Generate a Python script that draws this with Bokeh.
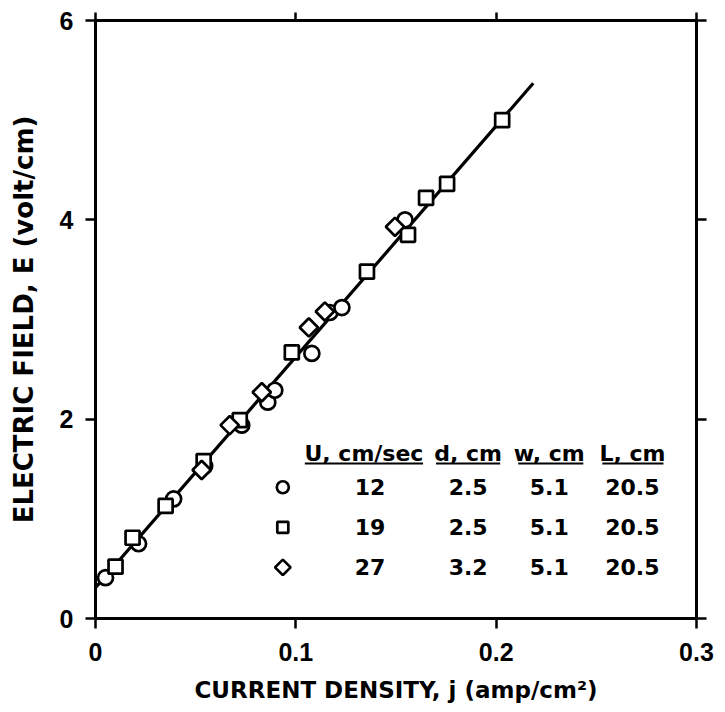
import math
from bokeh.plotting import figure
from bokeh.models import LinearAxis, FixedTicker, Range1d
from bokeh.embed import file_html
from bokeh.resources import INLINE
from bokeh.core.properties import value

# ---- data ----
x_ticks = [0.0, 0.1, 0.2, 0.3]
x_tick_labels = ["0", "0.1", "0.2", "0.3"]
y_ticks = [0, 2, 4, 6]
y_tick_labels = ["0", "2", "4", "6"]

# U = 12 cm/sec (circles)
circle_j = [0.005, 0.0215, 0.039, 0.0545, 0.073, 0.086, 0.0895, 0.108, 0.117, 0.123, 0.1545]
circle_E = [0.41, 0.75, 1.20, 1.53, 1.94, 2.17, 2.29, 2.66, 3.07, 3.12, 4.00]
# U = 19 cm/sec (squares)
square_j = [0.010, 0.0185, 0.035, 0.054, 0.072, 0.098, 0.1355, 0.156, 0.165, 0.1755, 0.203]
square_E = [0.52, 0.81, 1.13, 1.58, 1.99, 2.67, 3.48, 3.85, 4.22, 4.36, 5.00]
# U = 27 cm/sec (diamonds)
diamond_j = [0.053, 0.067, 0.083, 0.1065, 0.1145, 0.1495]
diamond_E = [1.49, 1.94, 2.27, 2.92, 3.08, 3.93]

# straight-line fit through the data
fit_j = [0.0, 0.2185]
fit_E = [0.31, 5.37]

table_header = ["U, cm/sec", "d, cm", "w, cm", "L, cm"]
table_U = ["12", "19", "27"]
table_d = ["2.5", "2.5", "3.2"]
table_w = ["5.1", "5.1", "5.1"]
table_L = ["20.5", "20.5", "20.5"]

x_title = "CURRENT DENSITY, j (amp/cm\u00b2)"
y_title = "ELECTRIC FIELD, E (volt/cm)"

FONT = "DejaVu Sans"

p = figure(width=722, height=712,
           x_range=Range1d(0, 0.3), y_range=Range1d(0, 6),
           output_backend="svg", toolbar_location=None,
           min_border_left=95, min_border_right=26,
           min_border_top=20, min_border_bottom=94,
           x_axis_label=x_title, y_axis_label=y_title)
p.outline_line_color = None
p.xgrid.visible = False
p.ygrid.visible = False
p.background_fill_color = "white"
p.border_fill_color = "white"

def style_axis(ax, ticks, labels, show_labels=True, tick_out=10):
    ax.ticker = FixedTicker(ticks=ticks)
    ax.axis_line_width = 3
    ax.axis_line_color = "black"
    ax.major_tick_line_width = 2.5
    ax.major_tick_line_color = "black"
    ax.major_tick_in = 0
    ax.major_tick_out = tick_out
    ax.minor_tick_in = 0
    ax.minor_tick_out = 0
    ax.minor_tick_line_color = None
    if show_labels:
        ax.major_label_overrides = {t: l for t, l in zip(ticks, labels)}
        ax.major_label_text_font = "Liberation Sans"
        ax.major_label_text_font_style = "bold"
        ax.major_label_text_font_size = "25px"
        ax.major_label_text_color = "black"
    else:
        ax.major_label_text_font_size = "0px"
        ax.major_label_standoff = 0

xa = p.xaxis[0]
ya = p.yaxis[0]
style_axis(xa, x_ticks, x_tick_labels)
style_axis(ya, y_ticks, y_tick_labels)
xa.major_label_standoff = 14
ya.major_label_standoff = 12
for ax, size, st in ((xa, "23px", 13), (ya, "26px", 18)):
    ax.axis_label_text_font = FONT
    ax.axis_label_text_font_size = size
    ax.axis_label_text_font_style = "bold"
    ax.axis_label_text_color = "black"
    ax.axis_label_standoff = st

top = LinearAxis()
style_axis(top, x_ticks, x_tick_labels, show_labels=False, tick_out=8)
p.add_layout(top, "above")
right = LinearAxis()
style_axis(right, y_ticks, y_tick_labels, show_labels=False, tick_out=10)
p.add_layout(right, "right")

# fit line
p.line(fit_j, fit_E, line_color="black", line_width=3.2)

# data markers
mk = dict(fill_color="white", line_color="black", line_width=2.7)
p.scatter(circle_j, circle_E, marker="circle", size=15, **mk)
p.scatter(square_j, square_E, marker="square", size=14, **mk)
p.scatter(diamond_j, diamond_E, marker="square", angle=math.pi / 4, size=13, **mk)

# ---- legend table (layout positions in data units) ----
row_y = [1.317, 0.915, 0.513]
head_y = 1.66
sym_x = 0.0935
col_x_head = [0.134, 0.186, 0.2265, 0.268]
col_x_val = [0.137, 0.186, 0.2265, 0.268]

p.scatter([sym_x], [row_y[0]], marker="circle", size=12, **mk)
p.scatter([sym_x], [row_y[1]], marker="square", size=11, **mk)
p.scatter([sym_x], [row_y[2]], marker="square", angle=math.pi / 4, size=11, **mk)

txt = dict(text_font=value(FONT), text_font_size="22px", text_font_style="bold",
           text_align="center", text_baseline="middle", text_color="black")
p.text(x=col_x_head, y=[head_y] * 4, text=table_header, **txt)
for cx, col in zip(col_x_val, (table_U, table_d, table_w, table_L)):
    p.text(x=[cx] * 3, y=row_y, text=col, **txt)

ul_y = 1.555
ul_x0 = [0.1045, 0.170, 0.211, 0.253]
ul_x1 = [0.1635, 0.202, 0.2435, 0.2835]
p.segment(x0=ul_x0, x1=ul_x1, y0=[ul_y] * 4, y1=[ul_y] * 4, line_color="black", line_width=2)

open("out.html", "w").write(file_html(p, INLINE))
